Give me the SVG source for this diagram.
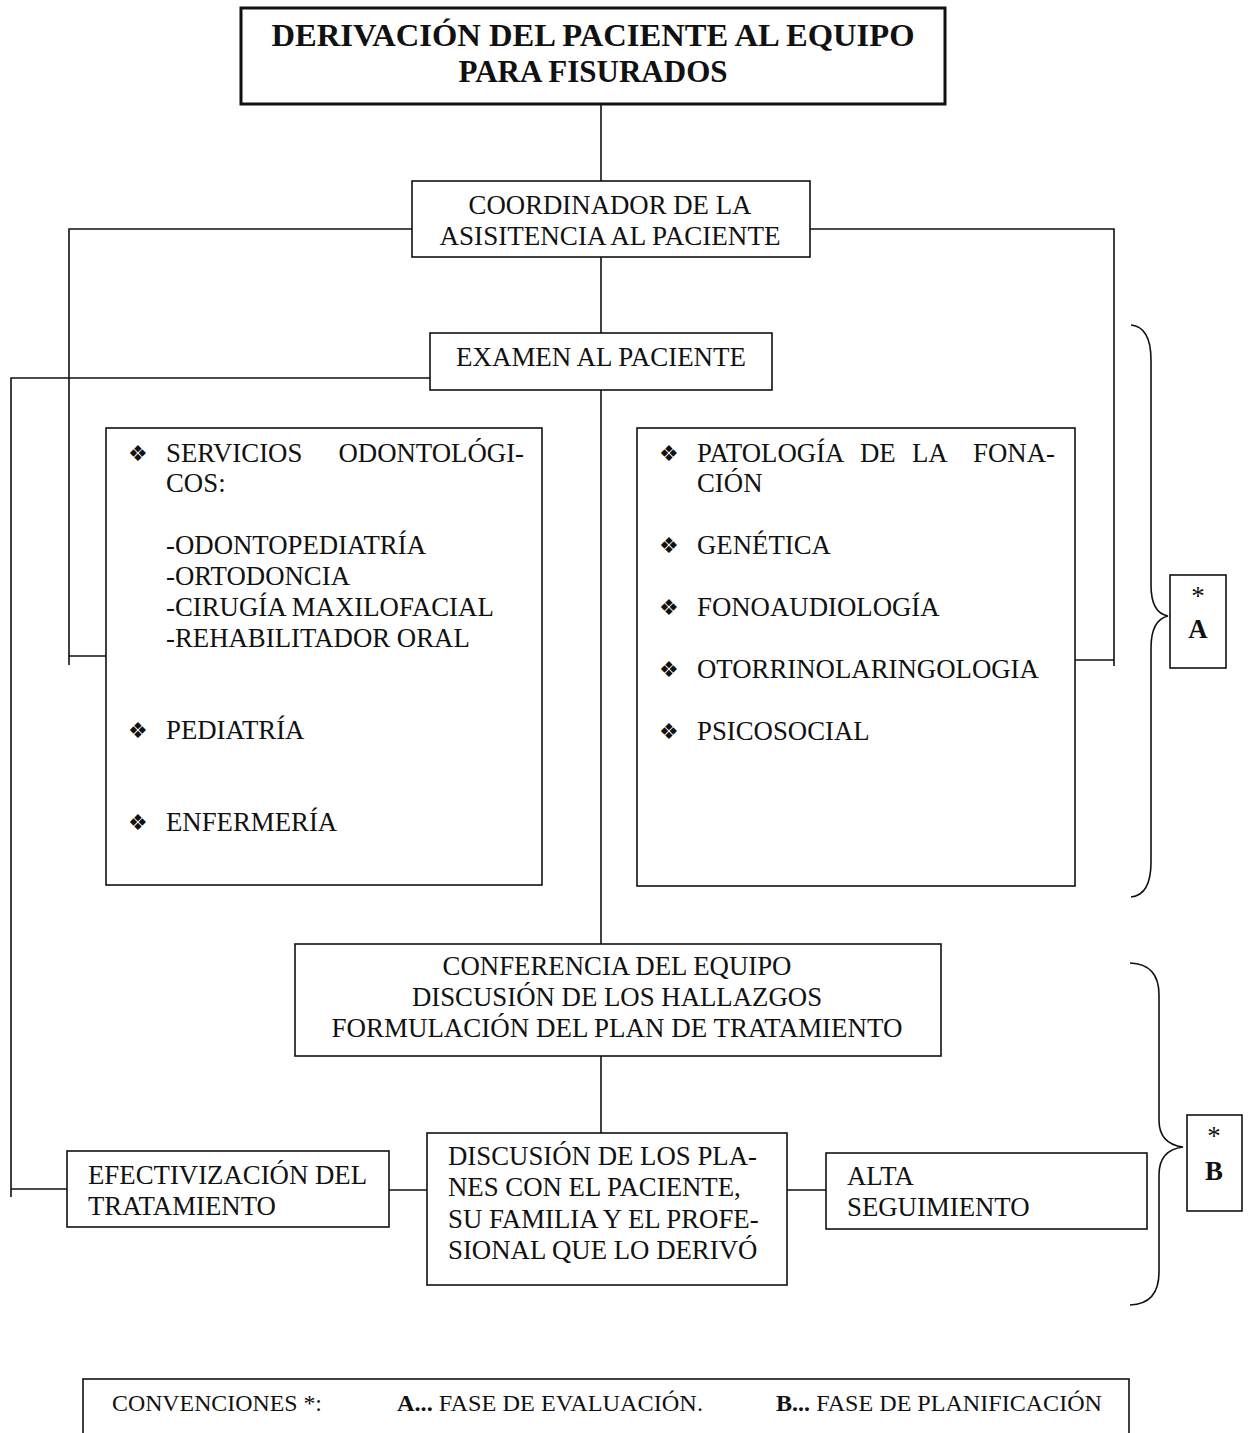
<svg xmlns="http://www.w3.org/2000/svg" width="1254" height="1433" viewBox="0 0 1254 1433">
<style>
.bx{fill:#fff;stroke:#111;stroke-width:1.6}
.ln{fill:none;stroke:#111;stroke-width:1.6}
.t{font-family:"Liberation Serif","Times New Roman",serif;font-size:26.8px;fill:#111}
.tt{font-family:"Liberation Serif","Times New Roman",serif;font-size:31px;font-weight:bold;fill:#111}
.b{font-family:"DejaVu Sans",sans-serif;font-size:22px;fill:#111}
.c{font-family:"Liberation Serif","Times New Roman",serif;font-size:23px;fill:#111}
</style>
<rect width="1254" height="1433" fill="#fff"/>
<g id="connectors">
<line class="ln" x1="601" y1="104" x2="601" y2="181"/>
<polyline class="ln" points="412,229 69,229 69,665"/>
<line class="ln" x1="69" y1="656" x2="106" y2="656"/>
<polyline class="ln" points="810,229 1114,229 1114,666"/>
<line class="ln" x1="1075" y1="660" x2="1114" y2="660"/>
<line class="ln" x1="601" y1="257" x2="601" y2="333"/>
<polyline class="ln" points="430,378 11,378 11,1197"/>
<line class="ln" x1="11" y1="1189" x2="67" y2="1189"/>
<line class="ln" x1="601" y1="390" x2="601" y2="944"/>
<line class="ln" x1="601" y1="1056" x2="601" y2="1133"/>
<line class="ln" x1="389" y1="1190" x2="427" y2="1190"/>
<line class="ln" x1="787" y1="1190" x2="826" y2="1190"/>
<path class="ln" d="M1131,325 Q1151,327 1151,360 L1151,585 Q1151,613 1168,616 Q1151,620 1151,648 L1151,862 Q1151,895 1131,897"/>
<path class="ln" d="M1130,963 Q1159,964 1159,995 L1159,1120 Q1159,1144 1183,1147 Q1159,1150 1159,1175 L1159,1272 Q1159,1304 1130,1305"/>
</g>
<g id="title">
<rect x="241" y="8" width="704" height="96" fill="#fff" stroke="#111" stroke-width="3"/>
<text class="tt" x="593" y="46" text-anchor="middle" textLength="643" lengthAdjust="spacingAndGlyphs">DERIVACIÓN DEL PACIENTE AL EQUIPO</text>
<text class="tt" x="593" y="82" text-anchor="middle">PARA FISURADOS</text>
</g>
<g id="coordinador">
<rect class="bx" x="412" y="181" width="398" height="76"/>
<text class="t" x="610" y="214" text-anchor="middle">COORDINADOR DE LA</text>
<text class="t" x="610" y="245" text-anchor="middle" textLength="341" lengthAdjust="spacingAndGlyphs">ASISITENCIA AL PACIENTE</text>
</g>
<g id="examen">
<rect class="bx" x="430" y="333" width="342" height="57"/>
<text class="t" x="601" y="366" text-anchor="middle" textLength="290" lengthAdjust="spacingAndGlyphs">EXAMEN AL PACIENTE</text>
</g>
<g id="servicios">
<rect class="bx" x="106" y="428" width="436" height="457"/>
<text class="b" x="128" y="461">❖</text>
<text class="t" x="166" y="462">SERVICIOS</text>
<text class="t" x="524" y="462" text-anchor="end">ODONTOLÓGI-</text>
<text class="t" x="166" y="492">COS:</text>
<text class="t" x="166" y="554">-ODONTOPEDIATRÍA</text>
<text class="t" x="166" y="585">-ORTODONCIA</text>
<text class="t" x="166" y="616">-CIRUGÍA MAXILOFACIAL</text>
<text class="t" x="166" y="647">-REHABILITADOR ORAL</text>
<text class="b" x="128" y="738">❖</text>
<text class="t" x="166" y="739">PEDIATRÍA</text>
<text class="b" x="128" y="830">❖</text>
<text class="t" x="166" y="831">ENFERMERÍA</text>
</g>
<g id="especialidades">
<rect class="bx" x="637" y="428" width="438" height="458"/>
<text class="b" x="659" y="461">❖</text>
<text class="t" x="697" y="462">PATOLOGÍA</text>
<text class="t" x="860" y="462">DE</text>
<text class="t" x="912" y="462">LA</text>
<text class="t" x="1055" y="462" text-anchor="end">FONA-</text>
<text class="t" x="697" y="492">CIÓN</text>
<text class="b" x="659" y="553">❖</text>
<text class="t" x="697" y="554">GENÉTICA</text>
<text class="b" x="659" y="615">❖</text>
<text class="t" x="697" y="616">FONOAUDIOLOGÍA</text>
<text class="b" x="659" y="677">❖</text>
<text class="t" x="697" y="678">OTORRINOLARINGOLOGIA</text>
<text class="b" x="659" y="739">❖</text>
<text class="t" x="697" y="740">PSICOSOCIAL</text>
</g>
<g id="conferencia">
<rect class="bx" x="295" y="944" width="646" height="112"/>
<text class="t" x="617" y="975" text-anchor="middle">CONFERENCIA DEL EQUIPO</text>
<text class="t" x="617" y="1006" text-anchor="middle">DISCUSIÓN DE LOS HALLAZGOS</text>
<text class="t" x="617" y="1037" text-anchor="middle" textLength="571" lengthAdjust="spacingAndGlyphs">FORMULACIÓN DEL PLAN DE TRATAMIENTO</text>
</g>
<g id="efectivizacion">
<rect class="bx" x="67" y="1151" width="322" height="76"/>
<text class="t" x="88" y="1184">EFECTIVIZACIÓN DEL</text>
<text class="t" x="88" y="1215">TRATAMIENTO</text>
</g>
<g id="discusion">
<rect class="bx" x="427" y="1133" width="360" height="152"/>
<text class="t" x="448" y="1165">DISCUSIÓN DE LOS PLA-</text>
<text class="t" x="448" y="1196">NES CON EL PACIENTE,</text>
<text class="t" x="448" y="1228">SU FAMILIA Y EL PROFE-</text>
<text class="t" x="448" y="1259">SIONAL QUE LO DERIVÓ</text>
</g>
<g id="alta">
<rect class="bx" x="826" y="1153" width="321" height="76"/>
<text class="t" x="847" y="1185">ALTA</text>
<text class="t" x="847" y="1216">SEGUIMIENTO</text>
</g>
<g id="faseA">
<rect class="bx" x="1170" y="575" width="56" height="93"/>
<text class="t" x="1198" y="605" text-anchor="middle">*</text>
<text class="t" x="1198" y="638" text-anchor="middle" font-weight="bold">A</text>
</g>
<g id="faseB">
<rect class="bx" x="1187" y="1115" width="55" height="96"/>
<text class="t" x="1214" y="1145" text-anchor="middle">*</text>
<text class="t" x="1214" y="1180" text-anchor="middle" font-weight="bold">B</text>
</g>
<g id="convenciones">
<rect class="bx" x="83" y="1379" width="1046" height="70"/>
<text class="c" x="112" y="1411" textLength="210" lengthAdjust="spacingAndGlyphs">CONVENCIONES *:</text>
<text class="c" x="397" y="1411" textLength="306" lengthAdjust="spacingAndGlyphs"><tspan font-weight="bold">A...</tspan> FASE DE EVALUACIÓN.</text>
<text class="c" x="776" y="1411" textLength="326" lengthAdjust="spacingAndGlyphs"><tspan font-weight="bold">B...</tspan> FASE DE PLANIFICACIÓN</text>
</g>
</svg>
